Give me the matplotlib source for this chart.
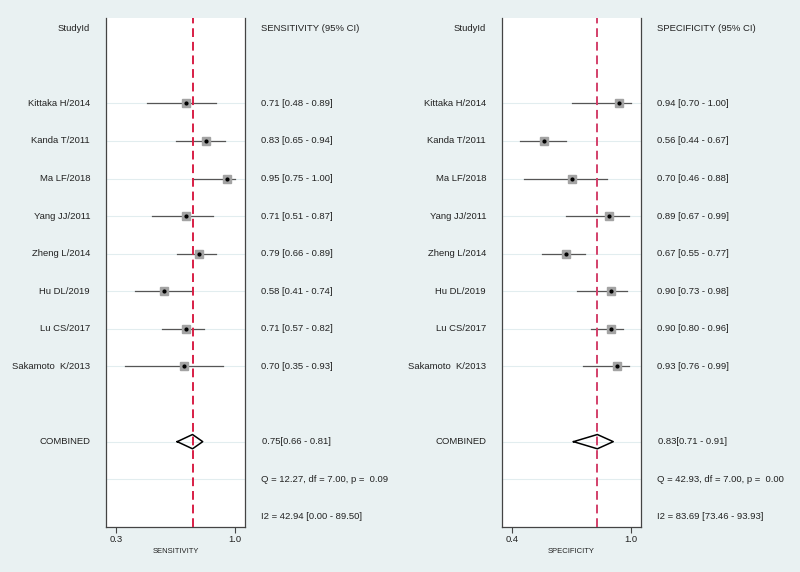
"""
Paired forest plot: sensitivity and specificity per study.
"""

import matplotlib
matplotlib.use("Agg")
import matplotlib.pyplot as plt
import matplotlib.transforms as mtransforms

studies = ["Kittaka H/2014", "Kanda T/2011", "Ma LF/2018", "Yang JJ/2011",
           "Zheng L/2014", "Hu DL/2019", "Lu CS/2017", "Sakamoto  K/2013"]

sens = [0.71, 0.83, 0.95, 0.71, 0.79, 0.58, 0.71, 0.70]
sens_lo = [0.48, 0.65, 0.75, 0.51, 0.66, 0.41, 0.57, 0.35]
sens_hi = [0.89, 0.94, 1.00, 0.87, 0.89, 0.74, 0.82, 0.93]
sens_pool = (0.75, 0.66, 0.81)
sens_q = "Q = 12.27, df = 7.00, p =  0.09"
sens_i2 = "I2 = 42.94 [0.00 - 89.50]"

spec = [0.94, 0.56, 0.70, 0.89, 0.67, 0.90, 0.90, 0.93]
spec_lo = [0.70, 0.44, 0.46, 0.67, 0.55, 0.73, 0.80, 0.76]
spec_hi = [1.00, 0.67, 0.88, 0.99, 0.77, 0.98, 0.96, 0.99]
spec_pool = (0.83, 0.71, 0.91)
spec_q = "Q = 42.93, df = 7.00, p =  0.00"
spec_i2 = "I2 = 83.69 [73.46 - 93.93]"

BG = "#e9f1f2"
GRID = "#e2edef"
TXT = "#222222"

plt.rcParams["font.family"] = ["Liberation Sans", "DejaVu Sans"]
plt.rcParams["font.size"] = 6.8
plt.rcParams["text.color"] = TXT

fig = plt.figure(figsize=(8, 5.72), dpi=100, facecolor=BG)


def panel(left, label_x, ci_x, est, lo, hi, pool, q_txt, i2_txt,
          title, xlabel, xlim, ticks, line_color):
    ax = fig.add_axes([left, 0.0787, 0.1738, 0.8898])
    ax.set_facecolor("white")
    ax.set_xlim(*xlim)
    ax.set_ylim(13.27, -0.27)
    rows = list(range(2, 2 + len(est)))
    for r in rows + [11, 12]:
        ax.axhline(r, color=GRID, lw=0.8, zorder=0)
    ax.axvline(pool[0], color=line_color, lw=1.4, ls=(0, (4.5, 2.5)), zorder=3)
    for r, e, l, h in zip(rows, est, lo, hi):
        ax.plot([l, h], [r, r], color="#555555", lw=0.9, zorder=2)
        ax.plot(e, r, marker="s", ms=6, color="#a3a3a3", zorder=4)
        ax.plot(e, r, marker="o", ms=2, color="black", zorder=5)
    p, pl, ph = pool
    ax.plot([pl, p, ph, p, pl], [11, 10.81, 11, 11.19, 11], color="black", lw=1.1, zorder=4)
    ax.spines["top"].set_visible(False)
    for s in ["left", "right", "bottom"]:
        ax.spines[s].set_color("#444444")
        ax.spines[s].set_linewidth(0.9)
    ax.set_yticks([])
    ax.set_xticks(ticks)
    ax.set_xticklabels([f"{t:.1f}" for t in ticks], fontsize=6.8, color=TXT)
    ax.tick_params(axis="x", direction="out", length=4, color="#444444", pad=1.5)
    ax.set_xlabel(xlabel, fontsize=5.5, labelpad=3, color=TXT)

    tr = mtransforms.blended_transform_factory(fig.transFigure, ax.transData)
    fig.text(label_x, 0, "StudyId", transform=tr, ha="right", va="center")
    fig.text(ci_x, 0, title, transform=tr, ha="left", va="center")
    for r, name, e, l, h in zip(rows, studies, est, lo, hi):
        fig.text(label_x, r, name, transform=tr, ha="right", va="center")
        fig.text(ci_x, r, f"{e:.2f} [{l:.2f} - {h:.2f}]", transform=tr, ha="left", va="center")
    fig.text(label_x, 11, "COMBINED", transform=tr, ha="right", va="center")
    fig.text(ci_x + 0.002, 11, f"{p:.2f}[{pl:.2f} - {ph:.2f}]", transform=tr, ha="left", va="center")
    fig.text(ci_x, 12, q_txt, transform=tr, ha="left", va="center")
    fig.text(ci_x, 13, i2_txt, transform=tr, ha="left", va="center")
    return ax


panel(0.1325, 0.1125, 0.326, sens, sens_lo, sens_hi, sens_pool, sens_q, sens_i2,
      "SENSITIVITY (95% CI)", "SENSITIVITY", (0.241, 1.059), [0.3, 1.0], "#d81e45")
panel(0.6275, 0.6075, 0.821, spec, spec_lo, spec_hi, spec_pool, spec_q, spec_i2,
      "SPECIFICITY (95% CI)", "SPECIFICITY", (0.35, 1.05), [0.4, 1.0], "#d3406a")

fig.savefig("out.png", dpi=100, facecolor=BG)
